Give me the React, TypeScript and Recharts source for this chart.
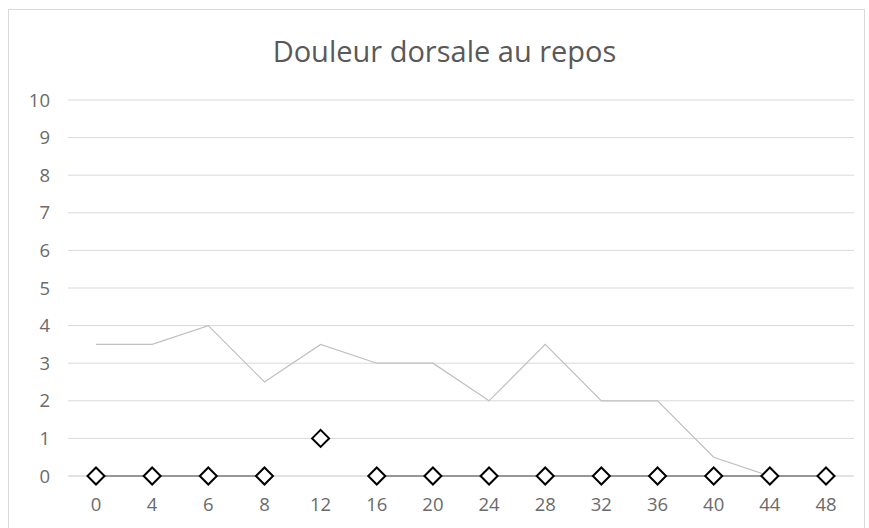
import { Line, LineChart, XAxis, YAxis, CartesianGrid } from "recharts";

const hours = ["0", "4", "6", "8", "12", "16", "20", "24", "28", "32", "36", "40", "44", "48"];
const painAtRest = [3.5, 3.5, 4, 2.5, 3.5, 3, 3, 2, 3.5, 2, 2, 0.5, 0, null];
const markerScores = [0, 0, 0, 0, 1, 0, 0, 0, 0, 0, 0, 0, 0, 0];
const baseline = [0, 0, 0, 0, null, 0, 0, 0, 0, 0, 0, 0, 0, 0];
const yTicks = [0, 1, 2, 3, 4, 5, 6, 7, 8, 9, 10];

const data = hours.map((h, i) => ({
  hour: h,
  pain: painAtRest[i],
  score: markerScores[i],
  base: baseline[i],
}));

const Diamond = (props: any) => {
  const { cx, cy, index } = props;
  if (cx == null || cy == null) return <g key={index} />;
  const r = 8.5;
  return (
    <path
      key={index}
      d={`M${cx},${cy - r}L${cx + r},${cy}L${cx},${cy + r}L${cx - r},${cy}Z`}
      fill="#ffffff"
      stroke="#000000"
      strokeWidth={2}
    />
  );
};

const tickStyle = { fill: "#6b6b6b", fontSize: 18.5, fontFamily: "'Open Sans', sans-serif" };

export default function App() {
  return (
    <div style={{ position: "fixed", left: 0, top: 0, width: 869, height: 528, background: "#fff" }}>
      <div
        style={{
          position: "absolute",
          left: 8,
          top: 9,
          width: 857,
          height: 530,
          border: "1px solid #d9d9d9",
          boxSizing: "border-box",
        }}
      />
      <div
        style={{
          position: "absolute",
          left: 0,
          width: 869,
          top: 31,
          textAlign: "center",
          fontFamily: "'Open Sans', sans-serif",
          fontSize: 29,
          color: "#595959",
          paddingLeft: 20,
          boxSizing: "border-box",
        }}
      >
        Douleur dorsale au repos
      </div>
      <div style={{ position: "absolute", left: 0, top: 0 }}>
        <LineChart width={869} height={528} data={data} margin={{ top: 100, right: 15, left: 0, bottom: 22 }}>
          <CartesianGrid vertical={false} stroke="#d9d9d9" />
          <XAxis
            dataKey="hour"
            tickLine={false}
            axisLine={{ stroke: "#d9d9d9" }}
            tickSize={0}
            tickMargin={22}
            height={30}
            tick={tickStyle}
            interval={0}
            padding={{ left: 28, right: 28 }}
          />
          <YAxis
            domain={[0, 10]}
            ticks={yTicks}
            tickLine={false}
            axisLine={false}
            tickSize={0}
            tickMargin={18}
            width={68}
            tick={tickStyle}
            interval={0}
          />
          <Line
            dataKey="pain"
            stroke="#bfbfbf"
            strokeWidth={1.2}
            dot={false}
            type="linear"
            isAnimationActive={false}
          />
          <Line
            dataKey="base"
            stroke="#222222"
            strokeWidth={1.3}
            dot={false}
            type="linear"
            isAnimationActive={false}
          />
          <Line
            dataKey="score"
            stroke="none"
            dot={Diamond}
            activeDot={false}
            type="linear"
            isAnimationActive={false}
          />
        </LineChart>
      </div>
    </div>
  );
}
